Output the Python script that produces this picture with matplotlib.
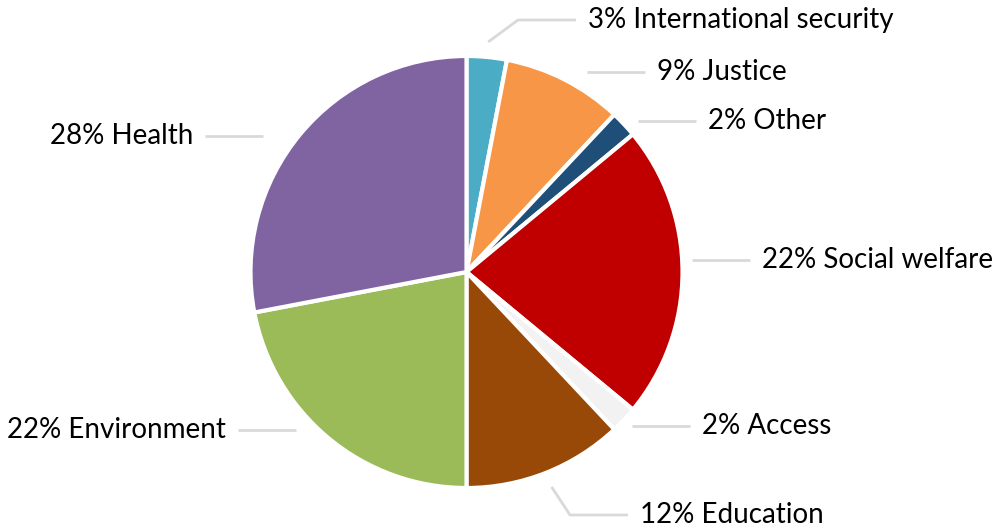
import numpy as np
import matplotlib.pyplot as plt

categories = ['International security', 'Justice', 'Other', 'Social welfare',
              'Access', 'Education', 'Environment', 'Health']
shares = [3, 9, 2, 22, 2, 12, 22, 28]
colors = ['#4bacc6', '#f79646', '#1f4e79', '#c00000',
          '#f2f2f2', '#984807', '#9bbb59', '#8064a2']

# label layout in pixel coords (x, y from top), side and whether leader bends
label_pos = [(588, 20), (657, 72), (708, 121), (762, 260),
             (702, 426), (640, 515), (226, 430), (193, 136)]
label_elbow = [True, False, False, False, False, True, False, False]

W, H = 992, 529
cx, cy, R = 466.5, H - 272, 216


def main():
    fig = plt.figure(figsize=(W / 100, H / 100), dpi=100)
    ax = fig.add_axes([0, 0, 1, 1])

    wedges, _ = ax.pie(shares, colors=colors, startangle=90, counterclock=False,
                       center=(cx, cy), radius=R,
                       wedgeprops=dict(edgecolor='white', linewidth=3))
    ax.set_xlim(0, W)
    ax.set_ylim(0, H)
    ax.set_aspect('equal')
    ax.axis('off')

    line_col = '#d9d9d9'
    for w, cat, val, (tx, py), elbow in zip(wedges, categories, shares,
                                            label_pos, label_elbow):
        ty = H - py
        mid = np.deg2rad((w.theta1 + w.theta2) / 2)
        right = np.cos(mid) > 0
        gap, seg = 12, 58
        if right:
            x_end = tx - gap
            x_start = x_end - seg
            ha = 'left'
        else:
            x_end = tx + gap
            x_start = x_end + seg
            ha = 'right'
        xs = [x_start, x_end]
        ys = [ty, ty]
        if elbow:
            px = cx + 1.07 * R * np.cos(mid)
            pyy = cy + 1.07 * R * np.sin(mid)
            xs = [px] + xs
            ys = [pyy] + ys
        ax.plot(xs, ys, color=line_col, lw=2, solid_capstyle='butt')
        ax.text(tx, ty, f'{val}% {cat}', ha=ha, va='center',
                fontsize=20, family='Lato', color='#000000')

    fig.savefig('out.png', dpi=100)


if __name__ == '__main__':
    main()
